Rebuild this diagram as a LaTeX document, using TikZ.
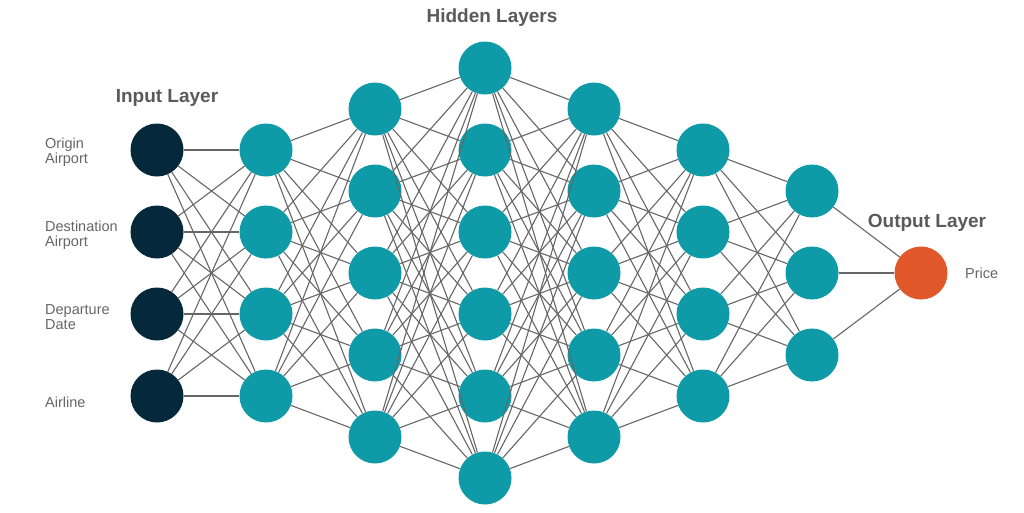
\documentclass[tikz,border=0pt]{standalone}
\usepackage{fontspec}
\setmainfont{Liberation Sans}
\definecolor{navyc}{HTML}{05293A}
\definecolor{tealc}{HTML}{0F9AA7}
\definecolor{orangec}{HTML}{E0582A}
\definecolor{labelc}{HTML}{666666}
\definecolor{titlec}{HTML}{5A5A5A}
\definecolor{edgec}{HTML}{666666}
\begin{document}
\begin{tikzpicture}[x=1pt,y=-1pt,
  neuron/.style={circle, minimum size=53pt, inner sep=0pt, fill=tealc, draw=none},
  inneuron/.style={neuron, fill=navyc},
  outneuron/.style={neuron, fill=orangec},
  edge/.style={draw=edgec, line width=1.1pt},
  title/.style={font=\fontsize{19}{22}\selectfont\bfseries, text=titlec},
  lbl/.style={font=\fontsize{14.5}{15}\selectfont, text=labelc, align=left, anchor=west, inner sep=0pt}]
\useasboundingbox (0,0) rectangle (1024,512);
% nodes
\foreach \y [count=\i] in {150,232,314,396} \node[inneuron] (a\i) at (157,\y) {};
\foreach \y [count=\i] in {150,232,314,396} \node[neuron] (b\i) at (266,\y) {};
\foreach \y [count=\i] in {109,191,273,355,437} \node[neuron] (c\i) at (375,\y) {};
\foreach \y [count=\i] in {68,150,232,314,396,478} \node[neuron] (d\i) at (485,\y) {};
\foreach \y [count=\i] in {109,191,273,355,437} \node[neuron] (e\i) at (594,\y) {};
\foreach \y [count=\i] in {150,232,314,396} \node[neuron] (f\i) at (703,\y) {};
\foreach \y [count=\i] in {191,273,355} \node[neuron] (g\i) at (812,\y) {};
\node[outneuron] (h1) at (921,273) {};
% edges
\foreach \i in {1,...,4} \foreach \j in {1,...,4} \draw[edge] (a\i) -- (b\j);
\foreach \i in {1,...,4} \foreach \j in {1,...,5} \draw[edge] (b\i) -- (c\j);
\foreach \i in {1,...,5} \foreach \j in {1,...,6} \draw[edge] (c\i) -- (d\j);
\foreach \i in {1,...,6} \foreach \j in {1,...,5} \draw[edge] (d\i) -- (e\j);
\foreach \i in {1,...,5} \foreach \j in {1,...,4} \draw[edge] (e\i) -- (f\j);
\foreach \i in {1,...,4} \foreach \j in {1,...,3} \draw[edge] (f\i) -- (g\j);
\foreach \i in {1,...,3} \draw[edge] (g\i) -- (h1);
% titles
\node[title] (tin) at (167,98) {Input Layer};
\node[title] (thid) at (492,18) {Hidden Layers};
\node[title] (tout) at (927,223) {Output Layer};
% labels
\node[lbl] (l1) at (45,152) {Origin\\Airport};
\node[lbl] (l2) at (45,235) {Destination\\Airport};
\node[lbl] (l3) at (45,317) {Departure\\Date};
\node[lbl] (l4) at (45,402) {Airline};
\node[lbl] (l5) at (965,273) {Price};
\end{tikzpicture}
\end{document}
